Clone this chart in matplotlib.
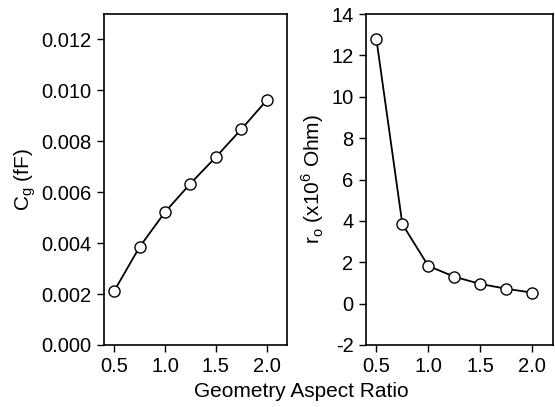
import matplotlib
matplotlib.use("Agg")
import matplotlib.pyplot as plt

plt.rcParams['font.family'] = ['Liberation Sans', 'DejaVu Sans']
plt.rcParams['axes.unicode_minus'] = False

aspect = [0.5, 0.75, 1.0, 1.25, 1.5, 1.75, 2.0]
cg = [0.00212, 0.00385, 0.00522, 0.00634, 0.00738, 0.00847, 0.00961]
ro = [12.79, 3.84, 1.82, 1.30, 0.95, 0.72, 0.53]

def main():
	fig = plt.figure(figsize=(5.55, 4.07), dpi=100)
	ax1 = fig.add_axes([104/555, 1-345/407, 183/555, 331/407])
	ax2 = fig.add_axes([366/555, 1-345/407, 187/555, 331/407])

	for ax in (ax1, ax2):
		ax.tick_params(direction='out', labelsize=14.5, length=5, width=1, pad=4, top=False, right=False)
		for s in ax.spines.values():
			s.set_linewidth(1.2)
		ax.set_xlim(0.4, 2.2)
		ax.set_xticks([0.5, 1.0, 1.5, 2.0])
		ax.set_xticklabels(['0.5', '1.0', '1.5', '2.0'])

	ax1.plot(aspect, cg, '-o', color='black', lw=1.3, ms=8, mfc='white', mec='black', mew=1)
	ax1.set_ylim(0, 0.013)
	ax1.set_yticks([0.000, 0.002, 0.004, 0.006, 0.008, 0.010, 0.012])
	ax1.set_yticklabels(['%.3f' % v for v in [0, 0.002, 0.004, 0.006, 0.008, 0.010, 0.012]])
	ax1.set_ylabel(r'C$_\mathregular{g}$ (fF)', fontsize=15, labelpad=2)

	ax2.plot(aspect, ro, '-o', color='black', lw=1.3, ms=8, mfc='white', mec='black', mew=1)
	ax2.set_ylim(-2, 14)
	ax2.set_yticks(range(-2, 15, 2))
	ax2.set_ylabel(r'r$_\mathregular{o}$ (x10$^\mathregular{6}$ Ohm)', fontsize=15, labelpad=4)

	fig.text(0.543, 0.039, 'Geometry Aspect Ratio', ha='center', va='center', fontsize=15)
	fig.savefig('out.png', dpi=100)

if __name__=="__main__":
	main()
